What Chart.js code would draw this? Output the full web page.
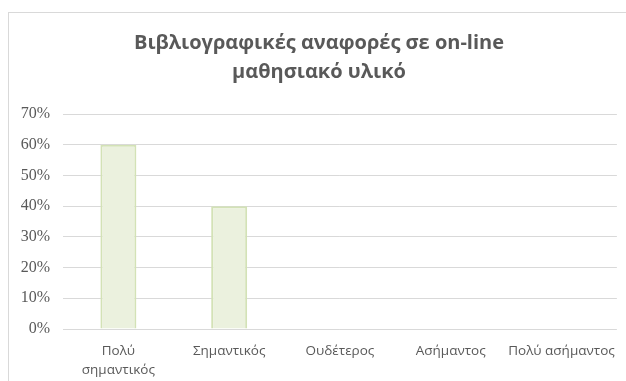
<!DOCTYPE html>
<html>
<head>
<meta charset="utf-8">
<script src="https://cdn.jsdelivr.net/npm/chart.js@4"></script>
<style>
    html, body { margin: 0; padding: 0; background: #ffffff; overflow: hidden; }
    #frame {
        position: absolute;
        left: 8px;
        top: 12px;
        width: 620px;
        height: 378px;
        border: 1px solid #d9d9d9;
        background: #ffffff;
    }
    #chart { display: block; }
</style>
</head>
<body>
<div id="frame">
    <canvas id="chart" width="620" height="378"></canvas>
</div>
<script>
// Κατηγορίες και ποσοστά απαντήσεων
const categories = [['Πολύ', 'σημαντικός'], 'Σημαντικός', 'Ουδέτερος', 'Ασήμαντος', 'Πολύ ασήμαντος'];
const percentages = [60, 40, 0, 0, 0];
const yTicks = [0, 10, 20, 30, 40, 50, 60, 70];
const chartTitle = ['Βιβλιογραφικές αναφορές σε on-line', 'μαθησιακό υλικό'];

const ctx = document.getElementById('chart').getContext('2d');
const chart = new Chart(ctx, {
    type: 'bar',
    data: {
        labels: categories,
        datasets: [{
            label: 'Ποσοστό',
            data: percentages,
            backgroundColor: '#ebf1de',
            borderColor: '#d3e2b6',
            borderWidth: 2,
            categoryPercentage: 1,
            barPercentage: 0.325
        }]
    },
    options: {
        responsive: false,
        animation: false,
        // ίδιο περιθώριο δεξιά κι αριστερά ώστε ο τίτλος να κεντράρεται στο πλαίσιο
        layout: { padding: { left: 12, right: 12, top: 0, bottom: 0 } },
        plugins: {
            legend: { display: false },
            tooltip: { enabled: false },
            title: {
                display: true,
                text: chartTitle,
                color: '#595959',
                font: { family: '"Open Sans", sans-serif', size: 20, weight: 'bold', lineHeight: 1.45 },
                padding: { top: 16, bottom: 27 }
            }
        },
        scales: {
            x: {
                grid: { display: false, drawTicks: false },
                border: { display: false },
                ticks: {
                    color: '#595959',
                    font: { family: '"Open Sans", sans-serif', size: 13.5, lineHeight: 1.4 },
                    padding: 13,
                    maxRotation: 0,
                    autoSkip: false
                },
                afterFit: (scale) => { scale.height = 62; }
            },
            y: {
                min: 0,
                max: 70,
                afterBuildTicks: (scale) => { scale.ticks = yTicks.map(v => ({ value: v })); },
                grid: { color: '#d9d9d9', lineWidth: 1, drawTicks: false },
                border: { display: false },
                ticks: {
                    color: '#595959',
                    font: { family: '"Liberation Serif", "Times New Roman", serif', size: 16 },
                    padding: 13,
                    callback: (v) => v + '%'
                },
                afterFit: (scale) => { scale.width = 42; }
            }
        }
    }
});
</script>
</body>
</html>
